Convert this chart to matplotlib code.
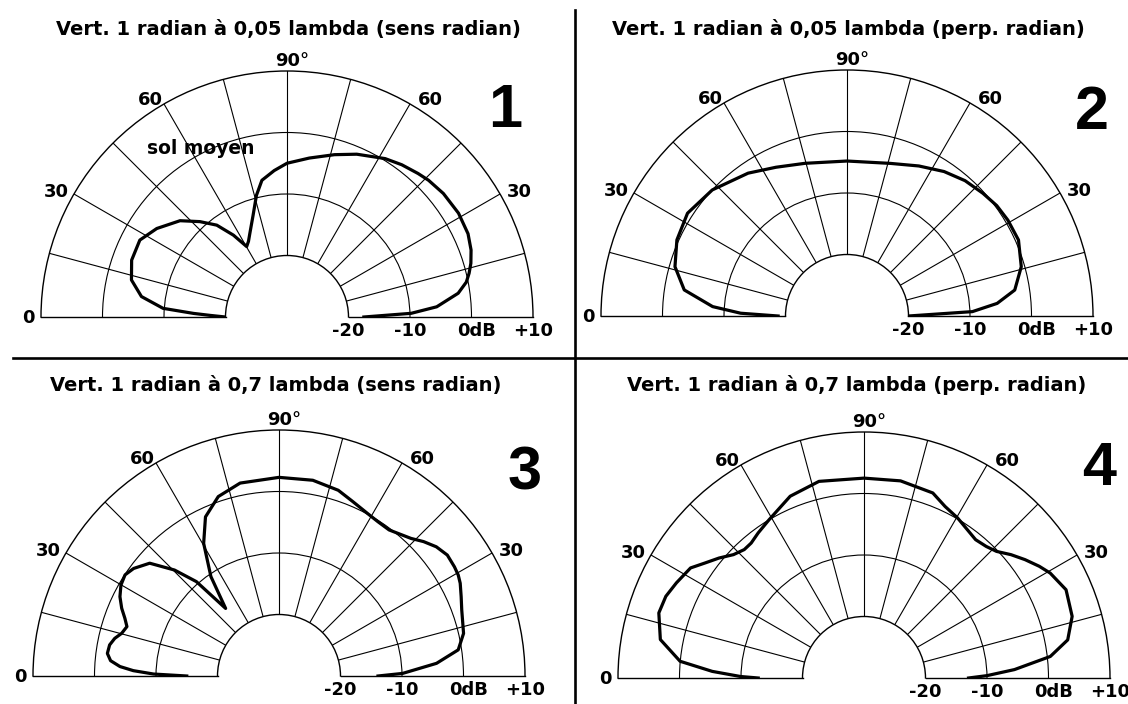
import numpy as np
import matplotlib
matplotlib.use("Agg")
import matplotlib.pyplot as plt
from matplotlib.transforms import offset_copy
from matplotlib.lines import Line2D

# elevation patterns: angle in degrees (0 = right horizon, 180 = left horizon), gain in dB
theta1 = [0, 1.7, 3.9, 7.9, 11, 13.5, 16.3, 20, 24.7, 31.2, 38.3, 44, 47.6, 53, 58.2, 66.8,
          73.7, 82, 90, 95, 100.4, 104.1, 108.5, 113.9, 117, 119.8, 123.2, 127.4, 132.4, 138,
          145.8, 152.4, 159.9, 166.6, 172, 176, 177.8, 178.8, 180]
gain1 = [-17.5, -9.8, -5.6, -1.9, -0.3, 0.45, 1.15, 1.85, 2.4, 2.6, 2.4, 2.0, 1.6, 1.0, 0.3, -1.2,
         -2.5, -3.9, -5.0, -6.1, -7.4, -9.6, -12.6, -15.1, -16.2, -16.8, -14.1, -11.2, -9.0, -6.6,
         -4.4, -3.0, -3.1, -4.0, -6.1, -9.8, -14.8, -17.5, -20]

theta2 = [0, 2.0, 4.8, 8.8, 15.8, 23.9, 30.8, 36.4, 42.1, 48.9, 56.1, 64.4, 74.1, 90, 105.4,
          115.5, 124.7, 136.9, 147.2, 155.9, 164, 170.9, 176, 178.5, 180]
gain2 = [-20, -9.6, -5.5, -2.4, -0.55, 0.5, 0.45, 0.25, -0.23, -0.8, -1.7, -2.95, -4.2, -4.8, -4.25,
         -3.2, -1.75, 0, 0.85, 0.3, -0.9, -3.2, -8.1, -12.7, -18.8]

theta3 = [0, 1.2, 4.6, 8.3, 13, 19.9, 23.5, 27.1, 29.4, 31.9, 35.7, 39.4, 42.9, 46.2, 53, 57.3,
          61.5, 67.1, 72.3, 80.2, 90, 101.4, 108.7, 114.8, 119.6, 124.4, 128.3, 131.2, 134.6,
          138.9, 143.5, 146.7, 150.1, 153.5, 156.7, 159.5, 162, 164.8, 167.1, 169.6, 172.5,
          174.8, 176.6, 177.9, 179.1, 180]
gain3 = [-13.9, -9.9, -4.3, -0.55, 0.8, 1.6, 2.3, 3.1, 3.45, 3.6, 3.7, 3.1, 2.1, 1.0, -0.26, -0.2,
         0.1, 0.8, 1.7, 2.3, 2.3, 2.0, 0.8, -1.5, -5.2, -10.4, -16, -9.6, -5.8,
         -2.1, -0.6, -0.05, -0.35, -1.1, -2.15, -3.25, -4.0, -3.5, -2.6, -2.0, -1.85,
         -2.5, -4.1, -6.3, -9.6, -15]

theta4 = [0, 1.1, 3.2, 6.6, 10.6, 16.5, 23.6, 29.4, 32.5, 36.3, 40, 43.7, 47.1, 51.1, 59.7,
          64.7, 69.6, 79.5, 90, 102.9, 112.1, 121, 126.1, 129.9, 133, 136.6, 140.4, 144.1,
          147.6, 153.1, 157.6, 162.4, 169.3, 174.8, 177.5, 179.3, 180]
gain4 = [-13, -10, -5.5, 0.5, 3.7, 5.3, 5.85, 4.75, 3.8, 2.5, 1.2, -0.2, -0.8, -1.1, 0.15,
         0.85, 2.1, 2.6, 2.5, 2.8, 1.9, 0, -0.8, -1.4, -1.45, -0.8, 0.6, 1.9,
         3.4, 4.2, 4.85, 5.0, 3.7, 0.03, -5.3, -9.9, -12.8]

titles = [
    "Vert. 1 radian à 0,05 lambda (sens radian)",
    "Vert. 1 radian à 0,05 lambda (perp. radian)",
    "Vert. 1 radian à 0,7 lambda (sens radian)",
    "Vert. 1 radian à 0,7 lambda (perp. radian)",
]
numbers = ["1", "2", "3", "4"]
ring_values = [-20, -10, 0, 10]
ring_labels = ["-20", "-10", "0dB", "+10"]

thetas = [theta1, theta2, theta3, theta4]
gains = [gain1, gain2, gain3, gain4]

W, H = 1128, 704
R = 246   # outer radius in pixels
centers = [(287, 317), (847, 316), (279, 676), (864, 678)]
title_pos = [(288, 35), (848, 35), (276, 391), (857, 391)]
number_pos = [(505, 127), (1092, 129), (525, 489), (1099, 485)]

plt.rcParams["font.family"] = "DejaVu Sans"
fig = plt.figure(figsize=(W / 100, H / 100), dpi=100)

for i in range(4):
    cx, cy = centers[i]
    # half polar plot: the wedge sits in the upper part of a square box
    rect = [(cx - R) / W, 1 - (cy + R / 2) / H, 2 * R / W, 2 * R / H]
    ax = fig.add_axes(rect, projection="polar")
    ax.set_thetamin(0)
    ax.set_thetamax(180)
    ax.set_rlim(-20, 10)
    ax.set_rorigin(-30)
    ax.set_thetagrids(np.arange(15, 180, 15))
    ax.set_rgrids([-10, 0])
    ax.set_xticklabels([])
    ax.set_yticklabels([])
    ax.tick_params(length=0)
    ax.grid(True, color="black", linewidth=0.8)
    for sp in ax.spines.values():
        sp.set_color("black")
        sp.set_linewidth(1.0)

    ax.plot(np.radians(thetas[i]), gains[i], color="black", linewidth=2.3,
            solid_joinstyle="round")

    def label(theta, r, s, dx, dy, ha, va):
        tr = offset_copy(ax.transData, fig=fig, x=dx, y=dy, units="dots")
        ax.text(np.radians(theta), r, s, transform=tr, ha=ha, va=va,
                fontsize=13, fontweight="bold")

    label(90, 10, "90°", 5, 5, "center", "baseline")
    label(120, 10, "60", -1, -1, "right", "baseline")
    label(60, 10, "60", 8, -1, "left", "baseline")
    label(150, 10, "30", -5, -3, "right", "baseline")
    label(30, 10, "30", 7, -3, "left", "baseline")
    label(180, 10, "0", -6, -6, "right", "baseline")
    for v, s in zip(ring_values, ring_labels):
        label(0, v, s, 5.5 if s == "0dB" else 0, -5, "center", "top")

    tx, ty = title_pos[i]
    fig.text(tx / W, 1 - ty / H, titles[i], ha="center", va="baseline",
             fontsize=14, fontweight="bold")
    nx, ny = number_pos[i]
    fig.text(nx / W, 1 - ny / H, numbers[i], ha="center", va="baseline",
             fontsize=44, fontweight="bold", family="Liberation Sans")

fig.text(201 / W, 1 - 154 / H, "sol moyen", ha="center", va="baseline",
         fontsize=13.5, fontweight="bold")

# separators between the four panels
fig.add_artist(Line2D([574.5 / W, 574.5 / W], [1 - 10 / H, 0], transform=fig.transFigure,
                      color="black", linewidth=1.9))
fig.add_artist(Line2D([13 / W, 1], [1 - 358 / H, 1 - 358 / H], transform=fig.transFigure,
                      color="black", linewidth=1.9))

fig.savefig("out.png", dpi=100)
